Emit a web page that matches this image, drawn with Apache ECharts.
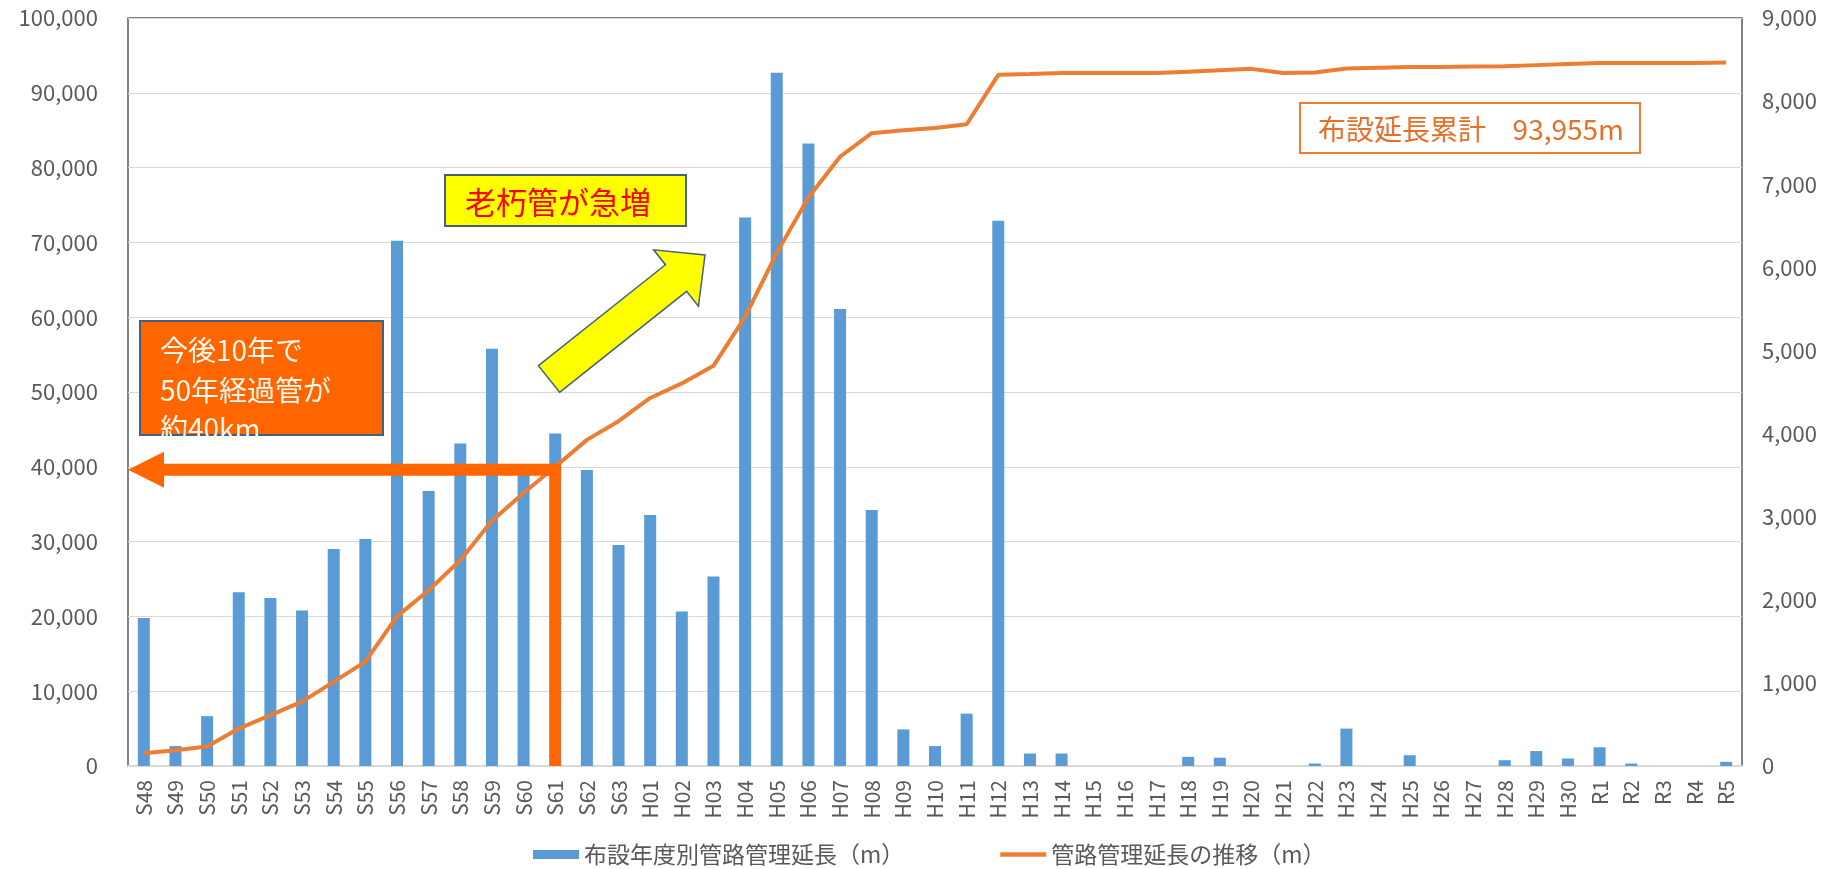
<!DOCTYPE html>
<html>
<head>
<meta charset="utf-8">
<script src="https://cdn.jsdelivr.net/npm/echarts@6/dist/echarts.min.js"></script>
<style>
html,body{margin:0;padding:0;background:#ffffff;}
#c{width:1841px;height:869px;}
</style>
</head>
<body>
<div id="c"></div>
<script>
// ---- data ----
const categories = ['S48','S49','S50','S51','S52','S53','S54','S55','S56','S57','S58','S59','S60','S61','S62','S63',
  'H01','H02','H03','H04','H05','H06','H07','H08','H09','H10','H11','H12','H13','H14','H15','H16','H17','H18','H19','H20',
  'H21','H22','H23','H24','H25','H26','H27','H28','H29','H30','R1','R2','R3','R4','R5'];

// 布設年度別管路管理延長 (right axis, 0-9,000)
const barValues = [1780,240,600,2090,2020,1870,2610,2730,6320,3310,3880,5020,3520,4000,3560,2660,
  3020,1860,2280,6600,8340,7490,5500,3080,440,240,630,6560,150,150,0,0,0,110,100,0,
  -20,30,450,0,130,0,0,70,180,90,225,30,0,0,50];

// 管路管理延長の推移 (left axis, 0-100,000)
const lineValues = [1700,2100,2600,5000,6800,8600,11250,13950,20000,23500,27500,32800,36500,40000,43600,46100,
  49200,51150,53500,60050,68600,76000,81450,84600,85000,85300,85800,92400,92500,92650,92650,92650,92650,92800,93000,93200,
  92650,92700,93250,93350,93450,93450,93500,93550,93700,93850,94000,94000,94000,94000,94050];

const barName = '布設年度別管路管理延長（m）';
const lineName = '管路管理延長の推移（m）';

const leftAxisMax = 100000, leftAxisStep = 10000;
const rightAxisMax = 9000, rightAxisStep = 1000;

// annotation texts / anchor
const markerCategory = 'S61';
const markerValue = 40000;
const noteOrange = ['今後10年で', '50年経過管が', '約40km'];
const noteYellow = '老朽管が急増';
const noteTotalLabel = '布設延長累計';
const noteTotalValue = '93,955m';

// ---- chart ----
const FONT = 'Noto Sans CJK JP';
const GREY = '#595959';
const chart = echarts.init(document.getElementById('c'), null, {renderer: 'canvas'});

const fmt = v => v.toLocaleString('en-US');

const option = {
  animation: false,
  backgroundColor: '#ffffff',
  textStyle: {fontFamily: FONT},
  grid: {
    left: 128, right: 99, top: 18, bottom: 103,
    show: true, borderColor: '#595959', borderWidth: 1.5, backgroundColor: 'transparent'
  },
  legend: {
    data: [
      {name: barName, icon: 'rect'},
      {name: lineName, icon: 'path://M0,0L50,0L50,5L0,5Z'}
    ],
    left: 528, top: 838,
    itemWidth: 46, itemHeight: 9, itemGap: 96,
    textStyle: {fontSize: 23, color: GREY, fontFamily: FONT}
  },
  xAxis: {
    type: 'category',
    data: categories,
    axisLine: {show: true, lineStyle: {color: '#D9D9D9', width: 2}},
    axisTick: {show: false},
    axisLabel: {rotate: 90, fontSize: 21, color: GREY, margin: 14, fontFamily: FONT, interval: 0}
  },
  yAxis: [
    {
      type: 'value', position: 'left', min: 0, max: leftAxisMax, interval: leftAxisStep,
      axisLine: {show: false}, axisTick: {show: false},
      axisLabel: {fontSize: 22, color: GREY, margin: 30, fontFamily: FONT, formatter: fmt},
      splitLine: {show: true, lineStyle: {color: '#D9D9D9', width: 1.2}}
    },
    {
      type: 'value', position: 'right', min: 0, max: rightAxisMax, interval: rightAxisStep,
      axisLine: {show: false}, axisTick: {show: false},
      axisLabel: {fontSize: 22, color: GREY, margin: 20, fontFamily: FONT, formatter: fmt},
      splitLine: {show: false}
    }
  ],
  series: [
    {
      name: barName, type: 'bar', yAxisIndex: 1, data: barValues,
      barWidth: 12, itemStyle: {color: '#5B9BD5'}, z: 2
    },
    {
      name: lineName, type: 'line', yAxisIndex: 0, data: lineValues,
      symbol: 'none', smooth: false,
      lineStyle: {color: '#ED7D31', width: 4}, itemStyle: {color: '#ED7D31'}, z: 3
    }
  ]
};
chart.setOption(option);

// ---- annotations (positioned from the axes) ----
const xM = chart.convertToPixel({xAxisIndex: 0}, markerCategory);
const yM = chart.convertToPixel({yAxisIndex: 0}, markerValue) + 3;
const y0 = chart.convertToPixel({yAxisIndex: 0}, 0);
const gridLeft = 128;
const OR = '#FF6600';
const EDGE = '#44607C';
const hT = 6; // half thickness of orange arrow

// yellow block arrow geometry
const T = [549, 379], P = [705, 255];
const dx = P[0] - T[0], dy = P[1] - T[1], L = Math.hypot(dx, dy);
const u = [dx / L, dy / L], n = [-u[1], u[0]];
const headLen = 37, shaftHalf = 17, headHalf = 36;
const B = [P[0] - headLen * u[0], P[1] - headLen * u[1]];
const pt = (c, k) => [c[0] + k * n[0], c[1] + k * n[1]];
const arrowPts = [pt(T, shaftHalf), pt(B, shaftHalf), pt(B, headHalf), P, pt(B, -headHalf), pt(B, -shaftHalf), pt(T, -shaftHalf)];

chart.setOption({
  graphic: [
    // orange L arrow
    {type: 'rect', z: 100, shape: {x: xM - 5.5, y: yM - hT, width: 11, height: y0 - yM + hT}, style: {fill: OR}},
    {type: 'rect', z: 100, shape: {x: gridLeft + 33, y: yM - hT, width: xM + 5.5 - (gridLeft + 33), height: 2 * hT}, style: {fill: OR}},
    {type: 'polygon', z: 100, shape: {points: [[gridLeft, yM], [gridLeft + 36, yM - 18], [gridLeft + 36, yM + 18]]}, style: {fill: OR}},
    // orange note box
    {type: 'rect', z: 101, shape: {x: 140, y: 321, width: 243, height: 114}, style: {fill: '#FF6600', stroke: EDGE, lineWidth: 2}},
    {type: 'text', z: 102, x: 160, y: 350, style: {text: noteOrange[0], font: '28px "Noto Sans CJK JP"', fill: '#FFF8F0', verticalAlign: 'middle'}},
    {type: 'text', z: 102, x: 160, y: 390, style: {text: noteOrange[1], font: '28px "Noto Sans CJK JP"', fill: '#FFF8F0', verticalAlign: 'middle'}},
    {type: 'text', z: 102, x: 160, y: 428, style: {text: noteOrange[2], font: '28px "Noto Sans CJK JP"', fill: '#FFF8F0', verticalAlign: 'middle'}},
    // yellow note box
    {type: 'rect', z: 101, shape: {x: 445, y: 175, width: 241, height: 51}, style: {fill: '#FFFF00', stroke: EDGE, lineWidth: 2}},
    {type: 'text', z: 102, x: 465, y: 202, style: {text: noteYellow, font: '31px "Noto Sans CJK JP"', fill: '#FF0000', verticalAlign: 'middle'}},
    // yellow arrow
    {type: 'polygon', z: 101, shape: {points: arrowPts}, style: {fill: '#FFFF00', stroke: EDGE, lineWidth: 1.5}},
    // total box
    {type: 'rect', z: 101, shape: {x: 1300, y: 103, width: 340, height: 50}, style: {fill: '#FFFFFF', stroke: '#ED7D31', lineWidth: 2}},
    {type: 'text', z: 102, x: 1318, y: 129, style: {text: noteTotalLabel, font: '28px "Noto Sans CJK JP"', fill: '#E5702A', verticalAlign: 'middle'}},
    {type: 'text', z: 102, x: 1624, y: 129, style: {text: noteTotalValue, font: '28px "Noto Sans CJK JP"', fill: '#E5702A', verticalAlign: 'middle', align: 'right'}}
  ]
});
</script>
</body>
</html>
